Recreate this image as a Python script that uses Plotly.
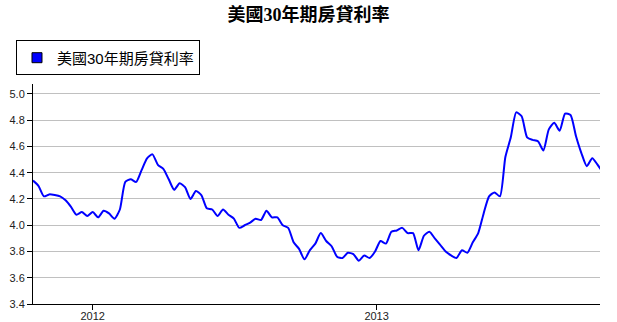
import pandas as pd
import plotly.graph_objects as go

title_text = "美國30年期房貸利率"
series_name = "美國30年期房貸利率"
start_date = "2011-10-16"
rates = [
    4.34, 4.30, 4.22, 4.235, 4.23, 4.22, 4.19, 4.14, 4.08, 4.10,
    4.07, 4.10, 4.06, 4.11, 4.09, 4.05, 4.12, 4.33, 4.35, 4.33,
    4.42, 4.51, 4.54, 4.46, 4.43, 4.35, 4.27, 4.32, 4.29, 4.20,
    4.26, 4.23, 4.13, 4.12, 4.07, 4.12, 4.08, 4.05, 3.98, 4.00,
    4.02, 4.05, 4.04, 4.11, 4.06, 4.06, 4.00, 3.98, 3.87, 3.82,
    3.74, 3.81, 3.86, 3.94, 3.88, 3.84, 3.76, 3.75, 3.79, 3.78,
    3.73, 3.77, 3.75, 3.80, 3.88, 3.86, 3.95, 3.96, 3.98, 3.94,
    3.94, 3.81, 3.92, 3.95, 3.90, 3.85, 3.80, 3.77, 3.75, 3.81,
    3.79, 3.87, 3.94, 4.09, 4.22, 4.25, 4.22, 4.52, 4.67, 4.86,
    4.83, 4.67, 4.65, 4.64, 4.57, 4.73, 4.78, 4.72, 4.85, 4.84,
    4.68, 4.55, 4.45, 4.51, 4.46, 4.40,
]
dates = pd.date_range(start_date, periods=len(rates), freq="7D")
x_range = ["2011-10-16", "2013-10-16"]
y_range = [3.4, 5.076]
year_ticks = ["2012-01-01", "2013-01-01"]
year_labels = ["2012", "2013"]

fig = go.Figure()
fig.add_trace(go.Scatter(
    x=dates, y=rates, mode="lines", name=series_name, showlegend=False,
    line=dict(color="#0000ff", width=2, shape="spline", smoothing=0.6),
))
fig.add_trace(go.Scatter(
    x=[None], y=[None], mode="markers", name=series_name, showlegend=True,
    marker=dict(symbol="square", size=10, color="#0000ff",
                line=dict(color="#000000", width=1)),
))

fig.update_layout(
    width=617, height=322,
    margin=dict(l=33, r=17, t=84, b=18, autoexpand=False),
    paper_bgcolor="white", plot_bgcolor="white",
    title=dict(text="<b>" + title_text + "</b>", x=0.5, xanchor="center",
               y=0.955, yanchor="middle",
               font=dict(family="Times New Roman, Noto Sans CJK TC", size=18, color="#000")),
    legend=dict(x=-0.03, y=1.198, xanchor="left", yanchor="top",
                bordercolor="#000", borderwidth=1, bgcolor="white",
                font=dict(family="Arial, Noto Sans CJK TC", size=15, color="#000"),
                itemwidth=30),
    xaxis=dict(type="date", range=x_range, tickvals=year_ticks, ticktext=year_labels,
               automargin=False, ticklabelstandoff=-3,
               showgrid=False, showline=True, linecolor="#000", linewidth=1,
               ticks="outside", ticklen=5, tickcolor="#000",
               tickfont=dict(family="Arial", size=11, color="#222"), zeroline=False),
    yaxis=dict(range=y_range, tickvals=[3.4, 3.6, 3.8, 4.0, 4.2, 4.4, 4.6, 4.8, 5.0],
               tickformat=".1f", automargin=False, showgrid=True, gridcolor="#c0c0c0", gridwidth=1,
               showline=True, linecolor="#000", linewidth=1,
               ticks="outside", ticklen=5, tickcolor="#000",
               tickfont=dict(family="Arial", size=11, color="#222"), zeroline=False),
)

fig.write_html("out.html")
